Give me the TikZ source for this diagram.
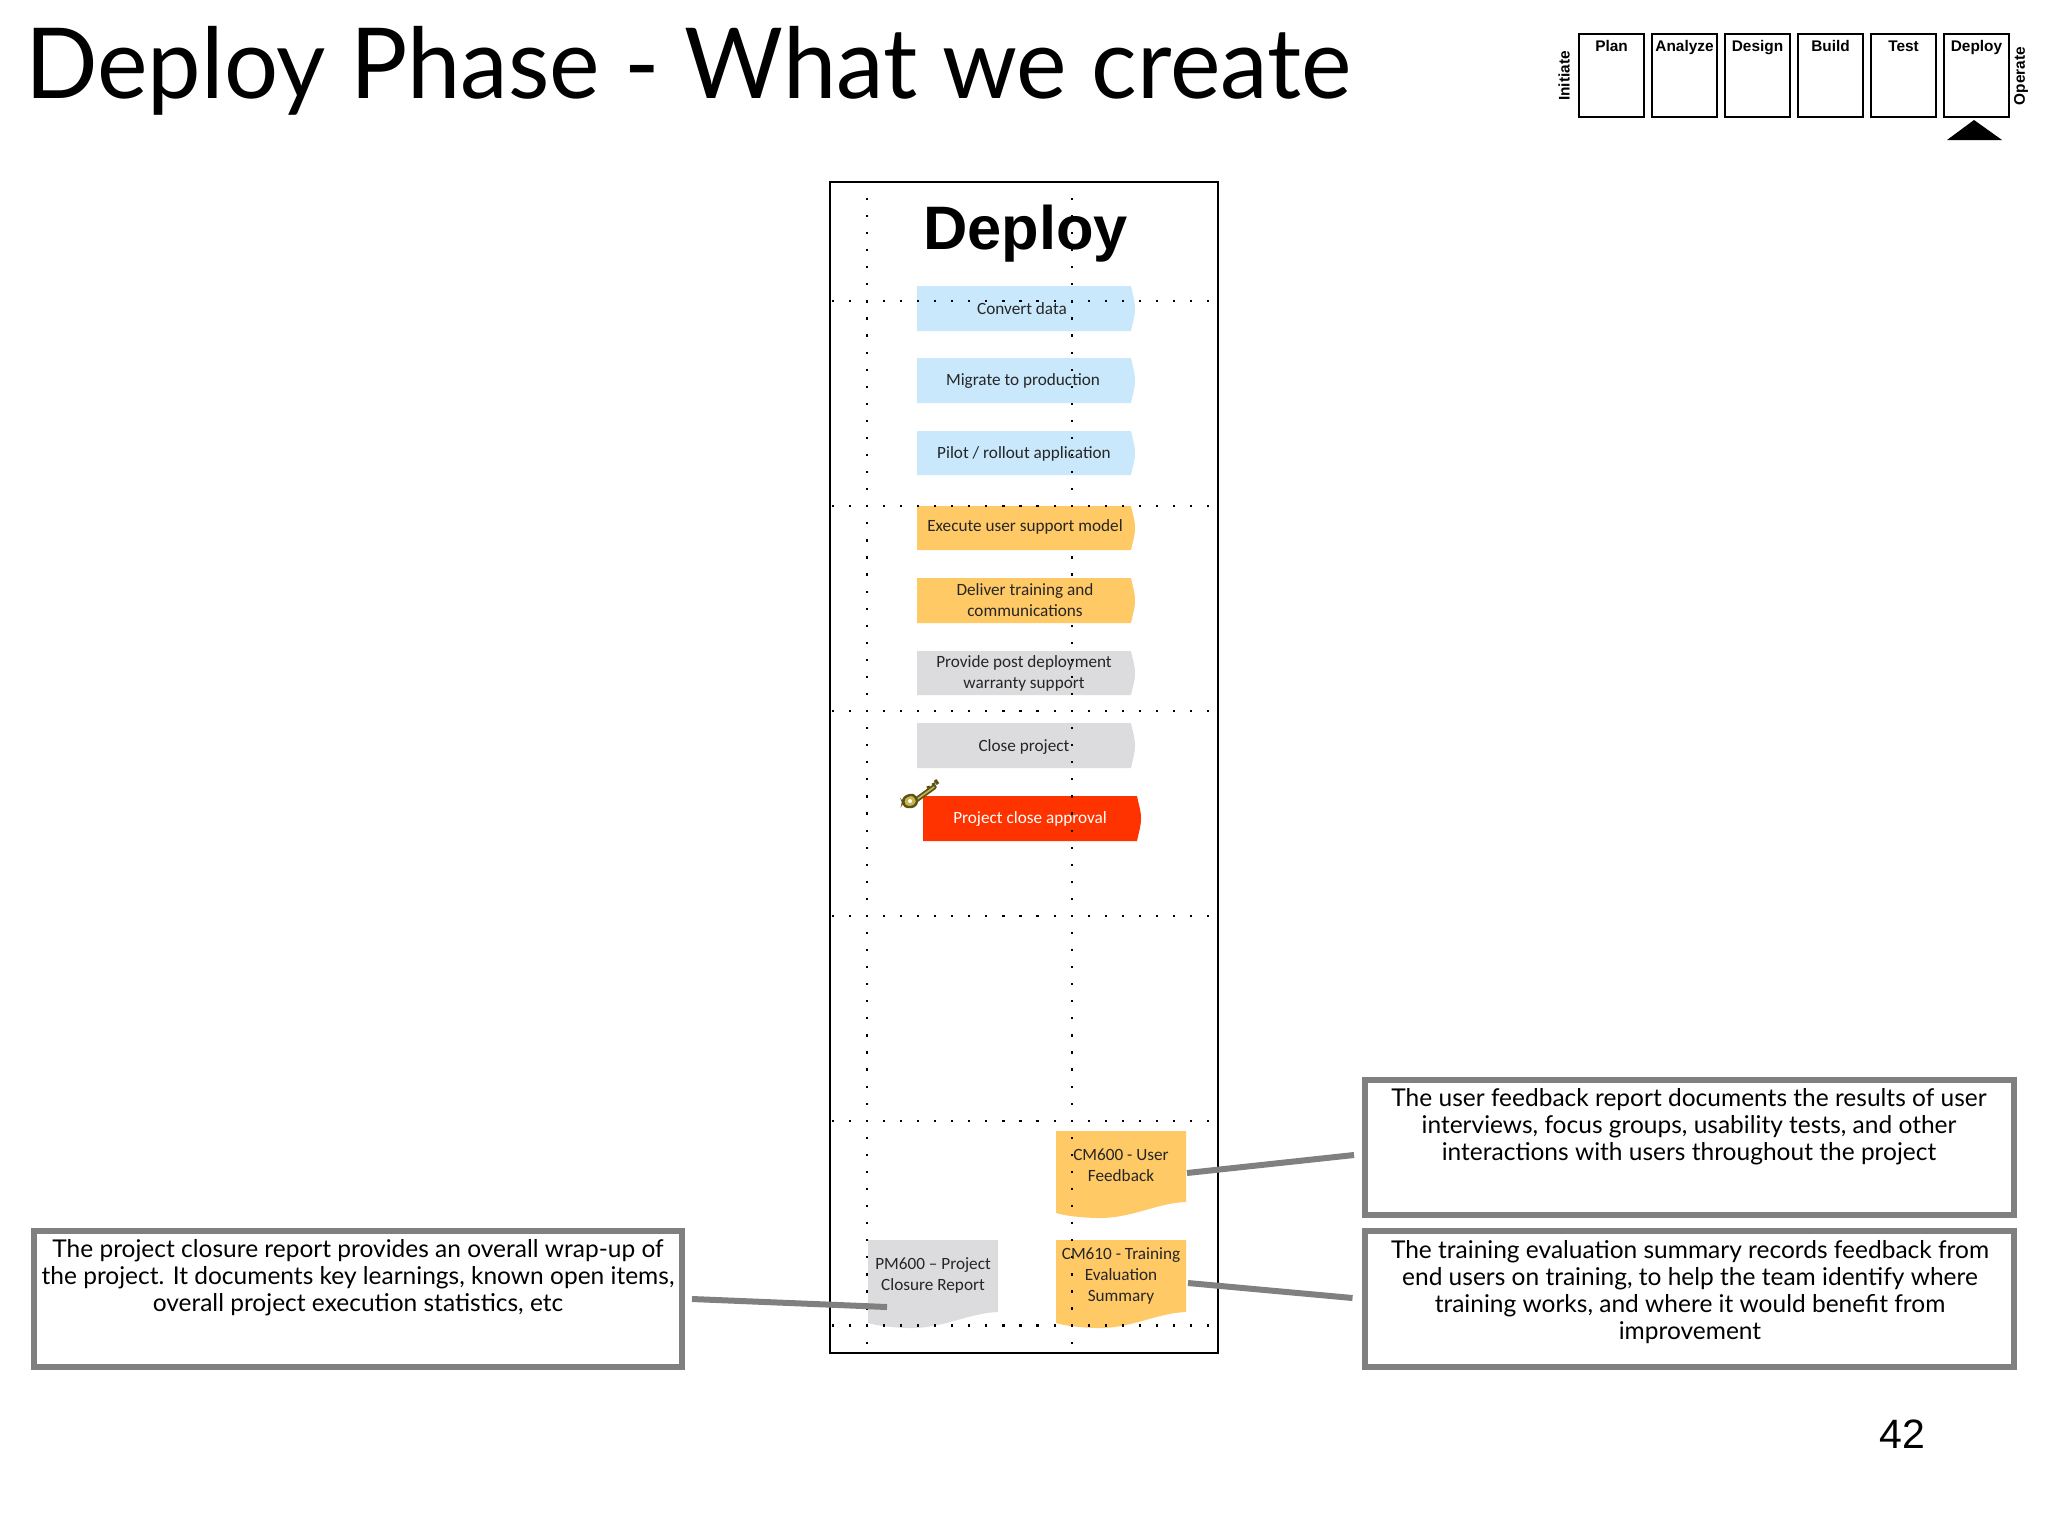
\documentclass[tikz,border=0pt]{standalone}
\usepackage{fontspec}
\setmainfont{Lato}
\newfontfamily\titlef[FakeStretch=0.975]{Lato}
\newfontfamily\arialf{Liberation Sans}
\newfontfamily\calf{Carlito}
\usetikzlibrary{calc}
\definecolor{stepblue}{HTML}{C9E8FC}
\definecolor{steporange}{HTML}{FFC966}
\definecolor{stepgrey}{HTML}{DCDCDE}
\definecolor{stepred}{HTML}{FF3300}
\definecolor{calloutgrey}{HTML}{808080}
\definecolor{keygold}{HTML}{C8B44A}
\definecolor{keydark}{HTML}{5A5218}
\newcommand{\stepshape}[4]{% fill, left x, top y, bottom y
  \pgfmathsetmacro{\rx}{#2+214}\pgfmathsetmacro{\tipx}{#2+218}\pgfmathsetmacro{\midy}{(#3+#4)/2}
  \fill[#1] (#2,#3) -- (\rx,#3) .. controls (\rx+2,#3+10) and (\tipx,\midy-8) .. (\tipx,\midy)
    .. controls (\tipx,\midy+8) and (\rx+2,#4-10) .. (\rx,#4) -- (#2,#4) -- cycle;}
\newcommand{\docshape}[4]{% fill, left x, top y, right-bottom y
  \fill[#1] (#2,#3) -- (#2+130,#3) -- (#2+130,#4) .. controls (#2+100,#4+1) and (#2+75,#4+17) .. (#2+40,#4+16)
    .. controls (#2+25,#4+15.5) and (#2+10,#4+14) .. (#2,#4+11) -- cycle;}
\tikzset{
  x=0.5pt,y=-0.5pt,
  phasebox/.style={draw=black,line width=1.2pt,minimum width=32.5pt,minimum height=41.5pt,outer sep=0pt,inner sep=0pt},
  phaselabel/.style={font=\arialf\bfseries\fontsize{7.7pt}{10pt}\selectfont,inner sep=0pt},
  sidelabel/.style={phaselabel,rotate=90,anchor=center},
  callout/.style={draw=calloutgrey,line width=3pt,outer sep=0pt,inner sep=0pt},
  callouttext/.style={font=\fontsize{12.25pt}{13.5pt}\selectfont,align=center,inner sep=0pt,text=black},
  steptext/.style={font=\calf\fontsize{8.6pt}{10.5pt}\selectfont,align=center,inner sep=0pt,text=black!85},
  connector/.style={draw=calloutgrey,line width=3pt}
}
\begin{document}
\begin{tikzpicture}
\useasboundingbox[fill=white] (0,0) rectangle (2048,1536);
% title
\node[anchor=base west,inner sep=0pt,font=\titlef\fontsize{49pt}{55pt}\selectfont] (title) at (25,98) {Deploy Phase - What we create};
% phase strip
\foreach \nm/\lab/\cx in {plan/Plan/1611.5,analyze/Analyze/1684.5,design/Design/1757.5,build/Build/1830.5,test/Test/1903.5,deploy/Deploy/1976.5}{
  \node[phasebox] (\nm) at (\cx,75.5) {};
  \node[phaselabel,anchor=base] at (\cx,52) {\lab};
}
\node[sidelabel] (initiate) at (1564,76) {Initiate};
\node[sidelabel] (operate) at (2021,76) {Operate};
\fill[black] (1947,140) -- (1974,120) -- (2002,140) -- cycle;
% main frame
\node[draw=black,line width=1.3pt,minimum width=194pt,minimum height=585.5pt,outer sep=0pt,inner sep=0pt] (frame) at (1024,767.5) {};
% blue, grey, red steps and documents
\stepshape{stepblue}{917}{286}{331}
\stepshape{stepblue}{917}{358}{403}
\stepshape{stepblue}{917}{431}{475}
\stepshape{stepgrey}{917}{651}{695}
\stepshape{stepgrey}{917}{723}{768}
\stepshape{stepred}{923}{796}{841}
\docshape{steporange}{1056}{1131}{1202}
\docshape{steporange}{1056}{1240}{1312}
\docshape{stepgrey}{868}{1240}{1312}
% vertical dotted lines
\foreach \k in {0,...,67}{
  \pgfmathsetmacro{\yy}{199+17.07*\k}
  \fill (865.8,\yy-1.1) rectangle (868,\yy+1.1);
  \fill (1070.8,\yy-1.1) rectangle (1073,\yy+1.1);
}
% orange steps hide the dots
\stepshape{steporange}{917}{506}{550}
\stepshape{steporange}{917}{578}{623}
% horizontal dotted lines
\foreach \j in {0,...,5}{
  \foreach \k in {0,...,22}{
    \pgfmathsetmacro{\yy}{301+204.9*\j}
    \pgfmathsetmacro{\xx}{832.7+17.07*\k}
    \fill (\xx-1.1,\yy-1.1) rectangle (\xx+1.1,\yy+1.1);
  }
}
% heading
\node[inner sep=0pt,font=\arialf\bfseries\fontsize{30.7pt}{34pt}\selectfont] (heading) at (1025.5,234) {Deploy};
% step labels
\node[steptext] (s1) at (1022,308.5) {Convert data};
\node[steptext] (s2) at (1023,381.5) {Migrate to production};
\node[steptext] (s3) at (1024,454) {Pilot / rollout application};
\node[steptext] (s4) at (1025,526.5) {Execute user support model};
\node[steptext] (s5) at (1025,600.5) {Deliver training and\\communications};
\node[steptext] (s6) at (1024,673.5) {Provide post deployment\\warranty support};
\node[steptext] (s7) at (1024,746.5) {Close project};
\node[steptext,text=white] (s8) at (1030,819) {Project close approval};
% key
\draw[keydark,line width=2.6pt,line cap=round] (916,800) -- (934,787);
\draw[keydark,line width=1.6pt] (930,792) -- (928,786) (935,788) -- (933,783) (938,784) -- (935,780);
\draw[keygold,line width=0.8pt,line cap=round] (916,800) -- (934,787);
\draw[keydark,line width=1.2pt,fill=keygold,rounded corners=1.5pt] (904,797) -- (913,794) -- (918,801) -- (914,807) -- (905,807) -- (903,802) -- cycle;
\fill[white] (910,801) circle (2);
% document labels
\node[steptext] (cm600) at (1121,1165) {CM600 - User\\Feedback};
\node[steptext] (cm610) at (1121,1275.5) {CM610 - Training\\Evaluation\\Summary};
\node[steptext] (pm600) at (933,1275.5) {PM600 – Project\\Closure Report};
% callouts
\node[callout,minimum width=324.5pt,minimum height=67.5pt] (call1) at (1689.5,1147.5) {};
\node[callout,minimum width=324.5pt,minimum height=68pt] (call2) at (1689.5,1299) {};
\node[callout,minimum width=324pt,minimum height=68pt] (call3) at (358,1299) {};
\node[callouttext] (text1) at (1689,1126.5) {The user feedback report documents the results of user\\interviews, focus groups, usability tests, and other\\interactions with users throughout the project};
\node[callouttext] (text2) at (1690,1292) {The training evaluation summary records feedback from\\end users on training, to help the team identify where\\training works, and where it would benefit from\\improvement};
\node[callouttext] (text3) at (358,1278) {The project closure report provides an overall wrap-up of\\the project.  It documents key learnings, known open items,\\overall project execution statistics, etc};
% connectors
\coordinate (c1a) at (1187,1173);
\coordinate (c1b) at ([shift={(-5.5pt,-3.75pt)}]call1.west);
\coordinate (c2a) at (1188,1283);
\coordinate (c2b) at ([shift={(-6.25pt,0.5pt)}]call2.west);
\coordinate (c3a) at (887,1307);
\coordinate (c3b) at ([shift={(5pt,0pt)}]call3.east);
\draw[connector] (c1a) -- (c1b);
\draw[connector] (c2a) -- (c2b);
\draw[connector] (c3a) -- (c3b);
% page number
\node[inner sep=0pt,font=\arialf\fontsize{20.5pt}{24pt}\selectfont] (pageno) at (1902,1434) {42};
\end{tikzpicture}
\end{document}
